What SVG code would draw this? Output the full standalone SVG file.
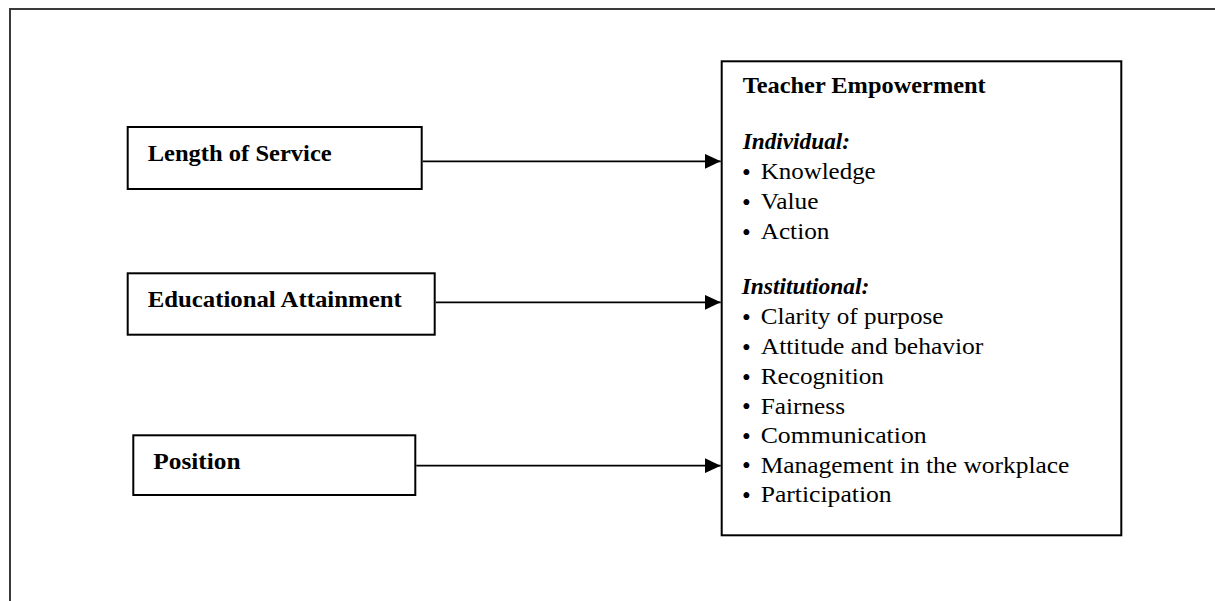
<svg xmlns="http://www.w3.org/2000/svg" width="1215" height="601" viewBox="0 0 1215 601">
  <style>
    .frame { fill: none; stroke: #3a3a3a; stroke-width: 2; }
    .box { fill: #ffffff; stroke: #000000; stroke-width: 2; }
    .link { fill: none; stroke: #000000; stroke-width: 1.7; }
    text { font-family: "Liberation Serif", "Times New Roman", serif; fill: #000000; }
    .label { font-size: 24px; font-weight: bold; }
    .title { font-size: 23.5px; font-weight: bold; }
    .group { font-size: 23.5px; font-weight: bold; font-style: italic; }
    .item { font-size: 23.5px; }
    .bul { font-size: 25px; }
  </style>
  <defs>
    <marker id="arrow" markerUnits="userSpaceOnUse" markerWidth="16" markerHeight="15" refX="16" refY="7.5" orient="auto">
      <path d="M0,0 L16,7.5 L0,15 Z" fill="#000000"/>
    </marker>
  </defs>

  <rect width="1215" height="601" fill="#ffffff"/>

  <!-- page frame (open at right and bottom) -->
  <path class="frame" d="M10,601 L10,9 L1215,9"/>

  <!-- connectors -->
  <g id="connectors">
    <line class="link" x1="422.7" y1="161.3" x2="720.7" y2="161.3" marker-end="url(#arrow)"/>
    <line class="link" x1="435.7" y1="302.3" x2="720.7" y2="302.3" marker-end="url(#arrow)"/>
    <line class="link" x1="416.3" y1="465.7" x2="720.7" y2="465.7" marker-end="url(#arrow)"/>
  </g>

  <g id="length-of-service">
    <rect class="box" x="127.7" y="127" width="294" height="62"/>
    <text class="label" x="147.7" y="161.3" textLength="184" lengthAdjust="spacingAndGlyphs">Length of Service</text>
  </g>

  <g id="educational-attainment">
    <rect class="box" x="127.7" y="273.3" width="307" height="61.4"/>
    <text class="label" x="147.7" y="306.7" textLength="254" lengthAdjust="spacingAndGlyphs">Educational Attainment</text>
  </g>

  <g id="position">
    <rect class="box" x="133.3" y="435.3" width="282" height="59.7"/>
    <text class="label" x="153.3" y="469.3" textLength="87.3" lengthAdjust="spacingAndGlyphs">Position</text>
  </g>

  <g id="teacher-empowerment">
    <rect class="box" x="721.7" y="61.3" width="399.6" height="474"/>
    <text class="title" x="742.7" y="92.7" textLength="243" lengthAdjust="spacingAndGlyphs">Teacher Empowerment</text>

    <text class="group" x="742.7" y="148.7" textLength="107.3" lengthAdjust="spacingAndGlyphs">Individual:</text>
    <text class="bul" x="742" y="180.5">•</text>
    <text class="item" x="760.7" y="179" textLength="115" lengthAdjust="spacingAndGlyphs">Knowledge</text>
    <text class="bul" x="742" y="210.5">•</text>
    <text class="item" x="760.7" y="209" textLength="57.7" lengthAdjust="spacingAndGlyphs">Value</text>
    <text class="bul" x="742" y="240.5">•</text>
    <text class="item" x="760.7" y="239" textLength="68.7" lengthAdjust="spacingAndGlyphs">Action</text>

    <text class="group" x="741.7" y="294" textLength="127.7" lengthAdjust="spacingAndGlyphs">Institutional:</text>
    <text class="bul" x="742" y="325.5">•</text>
    <text class="item" x="760.7" y="324" textLength="182.7" lengthAdjust="spacingAndGlyphs">Clarity of purpose</text>
    <text class="bul" x="742" y="355.5">•</text>
    <text class="item" x="760.7" y="354" textLength="222.7" lengthAdjust="spacingAndGlyphs">Attitude and behavior</text>
    <text class="bul" x="742" y="385.5">•</text>
    <text class="item" x="760.7" y="384" textLength="123.3" lengthAdjust="spacingAndGlyphs">Recognition</text>
    <text class="bul" x="742" y="415">•</text>
    <text class="item" x="760.7" y="413.5" textLength="84.3" lengthAdjust="spacingAndGlyphs">Fairness</text>
    <text class="bul" x="742" y="444.8">•</text>
    <text class="item" x="760.7" y="443.3" textLength="166" lengthAdjust="spacingAndGlyphs">Communication</text>
    <text class="bul" x="742" y="474.2">•</text>
    <text class="item" x="760.7" y="472.7" textLength="308.7" lengthAdjust="spacingAndGlyphs">Management in the workplace</text>
    <text class="bul" x="742" y="503.8">•</text>
    <text class="item" x="760.7" y="502.3" textLength="131" lengthAdjust="spacingAndGlyphs">Participation</text>
  </g>
</svg>
